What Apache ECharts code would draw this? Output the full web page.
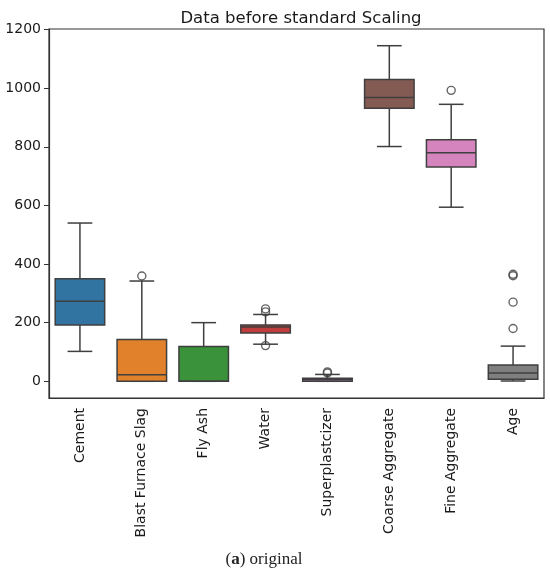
<!DOCTYPE html>
<html>
<head>
<meta charset="utf-8">
<script src="https://cdn.jsdelivr.net/npm/echarts@6/dist/echarts.min.js"></script>
<style>
html,body{margin:0;padding:0;background:#fff;}
#chart{width:550px;height:574px;}
</style>
</head>
<body>
<div id="chart"></div>
<script>
var categories = ['Cement','Blast Furnace Slag','Fly Ash','Water','Superplastcizer','Coarse Aggregate','Fine Aggregate','Age'];
var lowerWhisker = [102, 0, 0, 126.6, 0, 801, 594, 1];
var q1 = [192.4, 0, 0, 164.9, 0, 932, 731, 7];
var median = [272.9, 22, 0, 185, 6.4, 968, 779.5, 28];
var q3 = [350, 143, 118.3, 192, 10.2, 1029.4, 824, 56];
var upperWhisker = [540, 342.1, 200.1, 228, 23.4, 1145, 945, 120];
var outlierCat = [1, 3, 3, 3, 4, 4, 6, 7, 7, 7, 7];
var outlierVal = [359.4, 247, 236.7, 121.8, 28.2, 32.2, 992.6, 365, 360, 270, 180];
var colors = ['#3274a1','#e1812c','#3a923a','#c03d3e','#9372b2','#845b53','#d684bd','#7f7f7f'];
var yTicks = [0, 200, 400, 600, 800, 1000, 1200];

var boxData = categories.map(function (c, i) {
  return [i, lowerWhisker[i], q1[i], median[i], q3[i], upperWhisker[i]];
});
var outlierData = outlierCat.map(function (c, i) { return [c, outlierVal[i]]; });

var edge = '#3f3f3f';
var chart = echarts.init(document.getElementById('chart'));
chart.setOption({
  animation: false,
  backgroundColor: '#fff',
  title: [{
    text: 'Data before standard Scaling',
    left: 296, top: 5, textAlign: 'center',
    textStyle: {fontFamily: 'DejaVu Sans', fontSize: 16.5, fontWeight: 'normal', color: '#1a1a1a'}
  }, {
    text: '({b|a}) original',
    left: 259, top: 546, textAlign: 'center',
    textStyle: {fontFamily: 'Liberation Serif', fontSize: 17, fontWeight: 'normal', color: '#222',
      rich: {b: {fontFamily: 'Liberation Serif', fontSize: 17, fontWeight: 'bold', color: '#222'}}}
  }],
  grid: {left: 49, right: 6, top: 29, bottom: 176, show: true, borderColor: '#333', borderWidth: 1.2, backgroundColor: 'transparent'},
  xAxis: {
    type: 'category', data: categories, boundaryGap: true,
    axisLine: {onZero: false, lineStyle: {color: '#333', width: 1.2}},
    axisTick: {alignWithLabel: true, length: 5, lineStyle: {color: '#333'}},
    axisLabel: {rotate: 90, interval: 0, margin: 10, fontFamily: 'DejaVu Sans', fontSize: 14, color: '#1a1a1a'},
    splitLine: {show: false}
  },
  yAxis: {
    type: 'value', min: -57, max: 1202,
    axisLine: {show: true, lineStyle: {color: '#333', width: 1.2}},
    axisTick: {show: true, length: 5, customValues: yTicks, lineStyle: {color: '#333'}},
    axisLabel: {customValues: yTicks, margin: 8, fontFamily: 'DejaVu Sans', fontSize: 14, color: '#1a1a1a',
      formatter: function (v) { return String(v); }},
    splitLine: {show: false}
  },
  series: [{
    type: 'custom',
    data: boxData,
    encode: {x: 0, y: [1, 2, 3, 4, 5]},
    renderItem: function (params, api) {
      var i = api.value(0);
      var band = api.size([1, 0])[0];
      var bw = band * 0.8, cw = band * 0.4;
      var pMin = api.coord([i, api.value(1)]);
      var pQ1 = api.coord([i, api.value(2)]);
      var pMed = api.coord([i, api.value(3)]);
      var pQ3 = api.coord([i, api.value(4)]);
      var pMax = api.coord([i, api.value(5)]);
      var x = pMed[0];
      var ls = {stroke: edge, lineWidth: 1.5};
      return {
        type: 'group',
        children: [
          {type: 'line', shape: {x1: x, y1: pQ3[1], x2: x, y2: pMax[1]}, style: ls},
          {type: 'line', shape: {x1: x, y1: pQ1[1], x2: x, y2: pMin[1]}, style: ls},
          {type: 'line', shape: {x1: x - cw / 2, y1: pMax[1], x2: x + cw / 2, y2: pMax[1]}, style: ls},
          {type: 'line', shape: {x1: x - cw / 2, y1: pMin[1], x2: x + cw / 2, y2: pMin[1]}, style: ls},
          {type: 'rect', shape: {x: x - bw / 2, y: pQ3[1], width: bw, height: pQ1[1] - pQ3[1]},
            style: {fill: colors[i], stroke: edge, lineWidth: 1.5}},
          {type: 'line', shape: {x1: x - bw / 2, y1: pMed[1], x2: x + bw / 2, y2: pMed[1]}, style: ls}
        ]
      };
    }
  }, {
    type: 'scatter',
    data: outlierData,
    symbol: 'circle',
    symbolSize: 8,
    itemStyle: {color: 'rgba(255,255,255,0)', borderColor: edge, borderWidth: 1.4},
    z: 5
  }]
});
</script>
</body>
</html>
